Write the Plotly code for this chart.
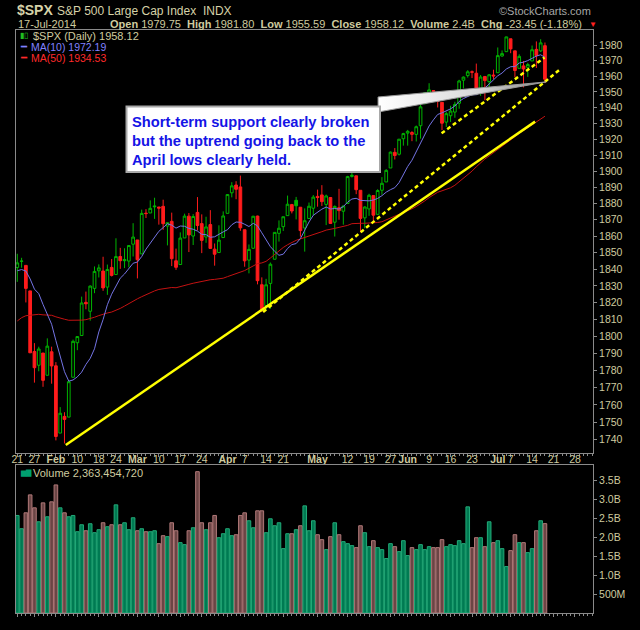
import plotly.graph_objects as go
import pandas as pd

# ---------------- data ----------------
prior_closes = [1747.15, 1770.61, 1771.89, 1767.69, 1782.00, 1790.62, 1798.18, 1791.53, 1787.87, 1781.37,
                1795.85, 1804.76, 1802.48, 1802.75, 1807.23, 1805.81,
                1800.90, 1795.15, 1792.81, 1785.03, 1805.09, 1808.37, 1802.62, 1782.22, 1775.50, 1775.32,
                1786.54, 1781.00, 1810.65, 1809.60, 1818.32, 1827.99, 1833.32, 1842.02, 1841.40, 1841.07, 1848.36,
                1831.98, 1831.37, 1826.77, 1837.88, 1837.49, 1838.13, 1842.37, 1819.20, 1838.88, 1848.38, 1845.89, 1838.70]

opens = [1841.05, 1844.71, 1842.29, 1826.96, 1791.03, 1783.00, 1790.15, 1777.17, 1790.88,
         1782.68, 1743.82, 1753.38, 1752.99, 1776.01, 1796.20, 1800.45, 1820.12, 1814.82, 1828.46,
         1839.03, 1838.90, 1829.24, 1841.07, 1836.78, 1847.66, 1845.79, 1844.90, 1855.12,
         1857.68, 1849.23, 1874.05, 1874.18, 1878.52, 1877.86, 1878.26, 1866.15, 1869.06, 1845.07,
         1842.81, 1858.92, 1872.25, 1860.09, 1874.53, 1867.67, 1859.48, 1867.09, 1852.11, 1850.07, 1859.16,
         1873.96, 1886.61, 1891.43, 1890.25, 1863.92, 1845.48, 1852.64, 1872.28, 1830.65,
         1818.18, 1831.45, 1846.01, 1861.73, 1865.79, 1872.57, 1879.32, 1881.97, 1877.72, 1865.00, 1870.78, 1877.10,
         1884.39, 1885.30, 1879.45, 1883.69, 1868.53, 1877.39, 1875.27, 1880.03, 1896.75, 1897.13, 1888.16, 1871.19,
         1876.66, 1884.88, 1873.34, 1888.19, 1893.32, 1902.01, 1911.77, 1910.60, 1920.33,
         1923.87, 1923.07, 1923.06, 1928.52, 1942.41, 1948.97, 1950.34, 1949.37, 1943.35, 1930.80,
         1934.84, 1937.15, 1942.73, 1957.50, 1960.45, 1962.92, 1961.97, 1949.27, 1959.89, 1956.56, 1960.79,
         1962.29, 1973.06, 1975.88, 1984.22, 1976.39, 1965.10, 1966.67, 1965.76, 1969.86, 1977.36, 1976.35, 1979.75]

highs = [1849.31, 1846.87, 1842.29, 1826.96, 1795.98, 1793.87, 1790.15, 1798.77, 1793.88,
         1784.83, 1758.73, 1755.79, 1774.06, 1798.03, 1799.94, 1823.54, 1826.55, 1830.25, 1841.65,
         1842.87, 1847.50, 1842.79, 1846.13, 1858.71, 1852.91, 1852.65, 1854.53, 1867.92,
         1857.68, 1876.23, 1876.53, 1881.94, 1883.57, 1877.87, 1882.35, 1868.38, 1874.40, 1852.44,
         1862.30, 1873.76, 1874.14, 1873.49, 1883.97, 1873.34, 1871.87, 1875.92, 1855.55, 1866.63, 1875.18,
         1885.84, 1893.17, 1893.80, 1897.28, 1864.04, 1854.95, 1872.43, 1872.53, 1835.07,
         1834.19, 1844.02, 1862.31, 1869.63, 1871.89, 1884.89, 1879.75, 1884.06, 1877.72, 1877.01, 1880.60, 1885.20,
         1888.59, 1891.33, 1885.51, 1883.69, 1878.83, 1889.07, 1878.57, 1897.13, 1902.17, 1897.13, 1888.16, 1878.28,
         1886.00, 1884.88, 1888.80, 1896.33, 1901.26, 1912.28, 1914.46, 1920.03, 1924.03,
         1925.88, 1925.07, 1928.63, 1941.74, 1949.44, 1955.55, 1950.86, 1949.37, 1943.35, 1937.30,
         1941.15, 1943.69, 1957.74, 1959.87, 1963.91, 1963.74, 1968.17, 1960.83, 1959.89, 1961.47, 1964.24,
         1978.58, 1976.67, 1985.59, 1984.22, 1976.39, 1974.15, 1969.84, 1968.67, 1979.85, 1982.52, 1983.94, 1981.80]

lows = [1832.38, 1840.88, 1820.06, 1790.29, 1772.88, 1779.49, 1770.45, 1777.17, 1772.26,
        1739.66, 1743.82, 1737.92, 1752.99, 1776.01, 1791.83, 1800.41, 1815.97, 1809.22, 1825.59,
        1835.01, 1826.99, 1824.58, 1835.60, 1836.78, 1840.19, 1840.66, 1841.13, 1847.67,
        1834.44, 1849.23, 1871.11, 1874.18, 1870.56, 1867.04, 1863.88, 1854.38, 1841.86, 1839.57,
        1842.81, 1858.92, 1850.35, 1854.63, 1863.46, 1849.69, 1855.96, 1852.56, 1842.11, 1850.07, 1859.16,
        1873.96, 1883.79, 1882.65, 1863.26, 1841.48, 1837.49, 1852.38, 1830.87, 1814.36,
        1815.80, 1816.29, 1846.01, 1856.72, 1863.18, 1872.57, 1873.91, 1870.24, 1859.70, 1850.61, 1870.78, 1872.69,
        1878.04, 1878.50, 1866.77, 1867.72, 1859.79, 1870.05, 1867.02, 1880.03, 1896.06, 1885.77, 1862.36, 1864.82,
        1872.42, 1868.14, 1873.34, 1885.39, 1893.32, 1902.01, 1907.30, 1909.82, 1915.98,
        1915.98, 1918.79, 1918.60, 1920.37, 1942.41, 1947.16, 1944.64, 1940.08, 1925.78, 1927.69,
        1930.91, 1933.55, 1939.29, 1952.26, 1959.17, 1958.89, 1948.34, 1947.49, 1944.69, 1952.18, 1958.22,
        1962.29, 1972.58, 1975.88, 1974.88, 1959.46, 1965.10, 1952.86, 1959.63, 1969.86, 1965.34, 1975.67, 1955.59]

closes = [1843.80, 1844.86, 1828.46, 1790.29, 1781.56, 1792.50, 1774.20, 1794.19, 1782.59,
          1741.89, 1755.20, 1751.64, 1773.43, 1797.02, 1799.84, 1819.75, 1819.26, 1829.83, 1838.63,
          1840.76, 1828.75, 1839.78, 1836.25, 1847.61, 1845.12, 1845.16, 1854.29, 1859.45,
          1845.73, 1873.91, 1873.81, 1877.03, 1878.04, 1877.17, 1867.63, 1868.20, 1846.34, 1841.13,
          1858.83, 1872.25, 1860.77, 1872.01, 1866.52, 1857.44, 1865.62, 1852.56, 1849.04, 1857.62, 1872.34,
          1885.52, 1890.90, 1888.77, 1865.09, 1845.04, 1851.96, 1872.18, 1833.08, 1815.69,
          1830.61, 1842.98, 1862.31, 1864.85, 1871.89, 1879.55, 1875.39, 1878.61, 1863.40, 1869.43, 1878.33, 1883.95,
          1883.68, 1881.14, 1884.66, 1867.72, 1878.21, 1875.63, 1878.48, 1896.65, 1897.45, 1888.53, 1870.85, 1877.86,
          1885.08, 1872.83, 1888.03, 1892.49, 1900.53, 1911.91, 1909.78, 1920.03, 1923.57,
          1924.97, 1924.24, 1927.88, 1940.46, 1949.44, 1951.27, 1950.79, 1943.89, 1930.11, 1936.16,
          1937.78, 1941.99, 1956.98, 1959.48, 1962.87, 1962.61, 1949.98, 1959.53, 1957.22, 1960.96, 1960.23,
          1973.32, 1974.62, 1985.44, 1977.65, 1963.71, 1972.83, 1964.68, 1967.57, 1977.10, 1973.28, 1981.57, 1958.12]

volume_billions = [2.579, 2.228, 2.649, 3.123, 2.781, 2.412, 2.912, 2.544, 2.939, 3.386,
                   2.781, 2.649, 2.544, 2.579, 2.149, 2.333, 2.175, 2.360, 2.123, 2.202,
                   2.386, 2.281, 2.333, 2.860, 2.333, 2.386, 2.202, 2.518, 2.175, 2.228,
                   2.149, 2.149, 2.175, 1.833, 2.044, 2.018, 2.386, 2.175, 1.860, 1.807,
                   2.175, 2.254, 3.737, 2.386, 2.202, 2.386, 2.579, 1.991, 2.096, 2.228,
                   2.044, 2.070, 2.579, 2.649, 2.439, 2.254, 2.702, 2.702, 2.123, 2.491,
                   2.307, 2.386, 1.702, 2.096, 2.096, 2.202, 2.307, 2.833, 2.175, 2.439,
                   2.070, 1.939, 1.675, 2.018, 2.386, 2.070, 1.886, 1.833, 1.781, 1.728,
                   2.307, 2.123, 1.754, 1.912, 1.728, 1.675, 1.439, 1.833, 1.754, 1.623,
                   1.912, 1.518, 1.728, 1.675, 1.807, 1.675, 1.754, 1.728, 1.728, 1.939,
                   1.754, 1.807, 1.781, 1.912, 1.833, 2.807, 1.728, 1.991, 1.991, 1.754,
                   2.412, 1.860, 1.912, 1.702, 1.228, 1.649, 2.070, 1.860, 1.860, 1.596,
                   1.702, 2.175, 2.439, 2.363]

tick_idx = [0, 4, 9, 14, 19, 23, 28, 33, 38, 43, 49, 53, 58, 62, 70, 77, 82, 87, 91, 96, 101, 106,
            112, 115, 120, 125, 130]
tick_text = ["21", "27", "<b>Feb</b>", "10", "18", "24", "<b>Mar</b>", "10", "17", "24", "<b>Apr</b>",
             "7", "14", "21", "<b>May</b>", "12", "19", "27", "<b>Jun</b>", "9", "16", "23", "<b>Jul</b>",
             "7", "14", "21", "28"]
price_ticks = [1740, 1750, 1760, 1770, 1780, 1790, 1800, 1810, 1820, 1830, 1840, 1850, 1860,
               1870, 1880, 1890, 1900, 1910, 1920, 1930, 1940, 1950, 1960, 1970, 1980]
vol_ticks = [0.5e9, 1.0e9, 1.5e9, 2.0e9, 2.5e9, 3.0e9, 3.5e9]
vol_tick_text = ["500M", "1.0B", "1.5B", "2.0B", "2.5B", "3.0B", "3.5B"]

# hand-drawn trend lines (day index, price)
solid_trend_x = [11.3, 120.7]
solid_trend_y = [1737.0, 1931.1]
long_dash_x = [57.3, 126.5]
long_dash_y = [1814.4, 1964.4]
short_dash_x = [98.9, 122.9]
short_dash_y = [1923.7, 1972.1]
callout_x = [84.1, 123.2, 84.1, 84.1]
callout_y = [1946.75, 1956.35, 1937.2, 1946.75]

# ---------------- styling ----------------
FONT = "Liberation Sans"
TXT = "#cfcb9f"
AX = "#8a8a8a"
GREEN = "#00b400"
RED = "#ff1c1c"
W, H = 640, 630
ML, MR, MT, MB = 16, 47, 30, 17
PW, PH = W - ML - MR, H - MT - MB


def px(x):
    return (x - ML) / PW


def py(y):
    return (H - MB - y) / PH


n = len(closes)
xs = list(range(n))
prev = [prior_closes[-1]] + closes[:-1]
up = [c >= p for c, p in zip(closes, prev)]

all_close = pd.Series(prior_closes + closes)
ma10 = all_close.rolling(10).mean().iloc[len(prior_closes):].tolist()
ma50 = all_close.rolling(50).mean().iloc[len(prior_closes):].tolist()

fig = go.Figure()

for want, col in [(True, GREEN), (False, RED)]:
    idx = [i for i in xs if up[i] == want]
    fig.add_trace(go.Candlestick(
        x=idx, open=[opens[i] for i in idx], high=[highs[i] for i in idx],
        low=[lows[i] for i in idx], close=[closes[i] for i in idx],
        increasing=dict(line=dict(color=col, width=1), fillcolor="#000000"),
        decreasing=dict(line=dict(color=col, width=1), fillcolor=col),
        whiskerwidth=0, showlegend=False, hoverinfo="skip", xaxis="x", yaxis="y"))

fig.add_trace(go.Scatter(x=xs, y=ma50, mode="lines", line=dict(color="#c41212", width=1),
                         hoverinfo="skip", xaxis="x", yaxis="y"))
fig.add_trace(go.Scatter(x=xs, y=ma10, mode="lines", line=dict(color="#7474e4", width=1),
                         hoverinfo="skip", xaxis="x", yaxis="y"))

fig.add_trace(go.Scatter(x=solid_trend_x, y=solid_trend_y, mode="lines",
                         line=dict(color="#ffff00", width=2.5), hoverinfo="skip", xaxis="x", yaxis="y"))
for tx, ty in [(long_dash_x, long_dash_y), (short_dash_x, short_dash_y)]:
    fig.add_trace(go.Scatter(x=tx, y=ty, mode="lines",
                             line=dict(color="#ffff00", width=2.5, dash="4px,3px"),
                             hoverinfo="skip", xaxis="x", yaxis="y"))

fig.add_trace(go.Scatter(x=callout_x, y=callout_y, mode="lines", fill="toself",
                         fillcolor="#e6e6e6",
                         fillgradient=dict(type="horizontal",
                                           colorscale=[[0, "#ffffff"], [0.6, "#d8d8d8"], [1, "#888888"]]),
                         line=dict(color="#9a9a9a", width=1), hoverinfo="skip", xaxis="x", yaxis="y"))

vol_colors = ["#007a52" if u else "#6b4545" for u in up]
vol_lines = ["#22aa78" if u else "#b07878" for u in up]
fig.add_trace(go.Bar(x=xs, y=[v * 1e9 for v in volume_billions], width=0.84,
                     marker=dict(color=vol_colors, line=dict(color=vol_lines, width=1)),
                     hoverinfo="skip", xaxis="x2", yaxis="y2"))

tickfont = dict(family=FONT, size=10.5, color=TXT)
xcommon = dict(range=[-0.3, 134.2], showline=True, linecolor=AX, linewidth=1, mirror=True,
               showgrid=False, zeroline=False, ticks="outside", ticklen=3, tickcolor=AX,
               tickvals=tick_idx, ticktext=tick_text, tickfont=tickfont, tickangle=0,
               minor=dict(tickvals=list(range(135)), ticks="outside", ticklen=2, tickcolor=AX))
ycommon = dict(side="right", showline=True, linecolor=AX, linewidth=1, mirror=True, showgrid=False,
               zeroline=False, ticks="outside", ticklen=3, tickcolor=AX, tickfont=tickfont)

fig.update_layout(
    width=W, height=H, margin=dict(l=ML, r=MR, t=MT, b=MB),
    paper_bgcolor="#000000", plot_bgcolor="#000000", showlegend=False,
    font=dict(family=FONT, color=TXT), boxgap=0.1,
    xaxis=dict(domain=[0, 1], anchor="y", rangeslider=dict(visible=False), ticklabelstandoff=-7,
               automargin=False, **xcommon),
    yaxis=dict(domain=[py(453), 1], anchor="x", type="log",
               range=[3.23867, 3.29884], tickvals=price_ticks,
               ticktext=[str(t) for t in price_ticks], automargin=False, **ycommon),
    xaxis2=dict(domain=[0, 1], anchor="y2", matches="x", showticklabels=False, automargin=False,
                **xcommon),
    yaxis2=dict(domain=[0, py(465)], anchor="x2", range=[0, 3.913e9], tickvals=vol_ticks,
                ticktext=vol_tick_text, automargin=False, **ycommon),
)


def note(x, y, text, size=11, color=TXT, xanchor="left", yanchor="middle", **kw):
    fig.add_annotation(x=px(x), y=py(y), xref="paper", yref="paper", text=text, showarrow=False,
                       xanchor=xanchor, yanchor=yanchor,
                       font=dict(family=FONT, size=size, color=color), **kw)


# header
note(15, 10, "<b>$SPX</b>", size=14, color="#d6d2a8")
note(55, 11, "S&P 500 Large Cap Index  INDX", size=12, color="#d6d2a8")
note(593, 11, "©StockCharts.com", size=11, color="#a6a6a6", xanchor="right")
note(16, 24, "17-Jul-2014", size=11)
note(584, 24, "<b>Open</b> 1979.75  <b>High</b> 1981.80  <b>Low</b> 1955.59  <b>Close</b> 1958.12  "
              "<b>Volume</b> 2.4B  <b>Chg</b> -23.45 (-1.18%)", size=11, xanchor="right")
note(587, 24, "▼", size=8, color="#ff2020")

# price legend
note(18, 36, "▮▯", size=8, color="#20c020")
note(31, 36, "$SPX (Daily) 1958.12", size=11)
note(18, 47, "━", size=10, color="#8080ff")
note(29, 47, "MA(10) 1972.19", size=10.5, color="#8080ff")
note(18, 58, "━", size=10, color="#ff2a2a")
note(29, 58, "MA(50) 1934.53", size=10.5, color="#ff2a2a")

# volume legend
note(18, 473, "▆▇", size=7, color="#00a070")
note(31, 473, "Volume 2,363,454,720", size=11)

# comment box
fig.add_shape(type="rect", xref="paper", yref="paper", x0=px(126.5), x1=px(380), y0=py(106.5), y1=py(172),
              fillcolor="#ffffff", line=dict(color="#a8a8a8", width=2), layer="above")
note(130, 141.3, "<b>Short-term support clearly broken<br>but the uptrend going back to the<br>"
                 "April lows clearly held.</b>", size=14.7, color="#1414e6", align="left")

fig.write_html("out.html")
